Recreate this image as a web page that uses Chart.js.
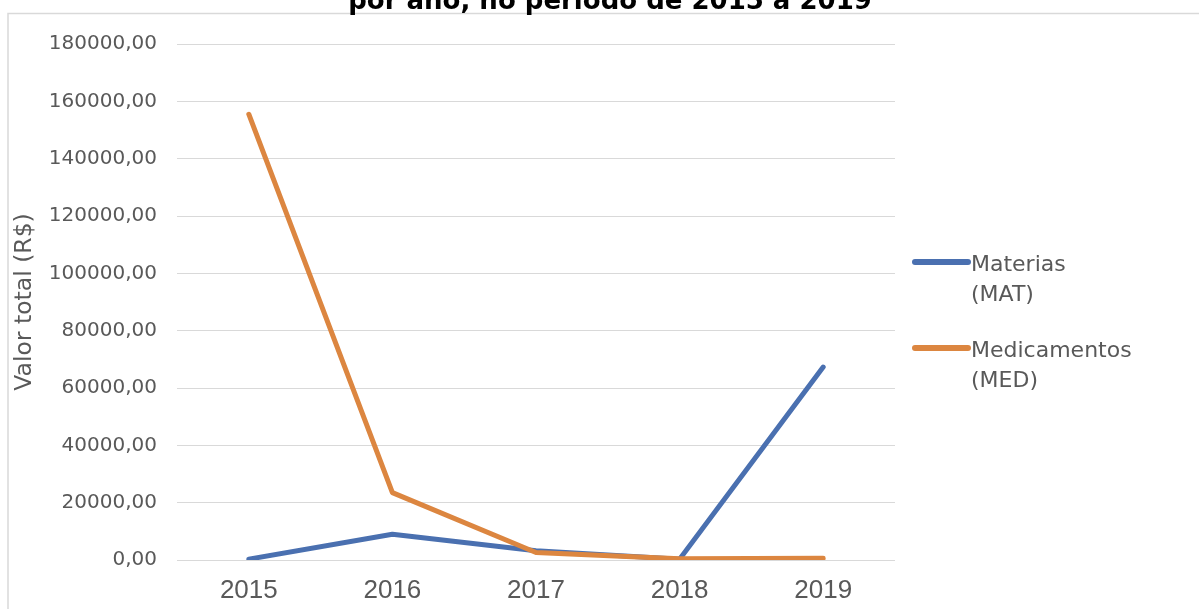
<!DOCTYPE html>
<html>
<head>
<meta charset="utf-8">
<script src="https://cdn.jsdelivr.net/npm/chart.js@4.4.0/dist/chart.umd.min.js"></script>
<style>
  html, body { margin: 0; padding: 0; background: #fff; overflow: hidden; }
  #wrap { width: 1199px; height: 609px; position: relative; }
</style>
</head>
<body>
<div id="wrap"><canvas id="grafico"></canvas></div>
<script>
// dados
const anos = ['2015', '2016', '2017', '2018', '2019'];
const materias = [300, 9000, 3200, 300, 67300];        // Materias (MAT)
const medicamentos = [155500, 23500, 2600, 400, 600];  // Medicamentos (MED)
const rotulosLegenda = [['Materias', '(MAT)'], ['Medicamentos', '(MED)']];
const yMin = 0, yMax = 180000, yPasso = 20000;
const tituloTexto = 'por ano, no período de 2015 a 2019';
const eixoYTexto = 'Valor total (R$)';

const cinza = '#595959';
const azul = '#4a70b0';
const laranja = '#dc8640';

// moldura, título cortado e legenda de duas linhas
const moldura = {
  id: 'moldura',
  beforeDraw(chart) {
    const c = chart.ctx;
    c.save();
    c.fillStyle = '#fff';
    c.fillRect(0, 0, chart.width, chart.height);
    c.strokeStyle = '#d9d9d9';
    c.lineWidth = 1.5;
    c.beginPath();
    c.moveTo(8, chart.height);
    c.lineTo(8, 13.5);
    c.lineTo(chart.width, 13.5);
    c.stroke();
    c.fillStyle = '#000';
    c.font = 'bold 26px "DejaVu Sans"';
    c.textAlign = 'center';
    c.textBaseline = 'alphabetic';
    c.fillText(tituloTexto, 610, 9);
    c.restore();
  },
  afterDraw(chart) {
    const c = chart.ctx;
    const x0 = chart.chartArea.right + 17;
    const ys = [262, 348];
    c.save();
    chart.data.datasets.forEach((ds, i) => {
      c.strokeStyle = ds.borderColor;
      c.lineWidth = 6;
      c.lineCap = 'round';
      c.beginPath();
      c.moveTo(x0 + 3, ys[i]);
      c.lineTo(x0 + 56, ys[i]);
      c.stroke();
      c.fillStyle = cinza;
      c.font = '22px "DejaVu Sans"';
      c.textAlign = 'left';
      c.textBaseline = 'alphabetic';
      rotulosLegenda[i].forEach((t, k) => c.fillText(t, x0 + 59, ys[i] + 9 + k * 30));
    });
    c.restore();
  }
};

new Chart(document.getElementById('grafico'), {
  type: 'line',
  data: {
    labels: anos,
    datasets: [
      { label: 'Materias (MAT)', data: materias, borderColor: azul, backgroundColor: azul, order: 1 },
      { label: 'Medicamentos (MED)', data: medicamentos, borderColor: laranja, backgroundColor: laranja, order: 0 }
    ]
  },
  options: {
    responsive: true,
    maintainAspectRatio: false,
    animation: false,
    layout: { padding: { left: 8, top: 44, right: 304, bottom: 0 } },
    elements: {
      line: { borderWidth: 5, tension: 0, borderCapStyle: 'round', borderJoinStyle: 'round' },
      point: { radius: 0, hoverRadius: 0 }
    },
    plugins: {
      legend: { display: false },
      title: { display: false },
      tooltip: { enabled: false }
    },
    scales: {
      x: {
        offset: true,
        grid: { display: false, drawTicks: false },
        border: { display: false },
        ticks: { color: cinza, font: { family: 'Liberation Sans', size: 26 }, padding: 15, maxRotation: 0 },
        afterFit: s => { s.height = 49; }
      },
      y: {
        min: yMin,
        max: yMax,
        grid: { color: '#d9d9d9', lineWidth: 1, drawTicks: false },
        border: { display: false },
        ticks: {
          stepSize: yPasso,
          color: cinza,
          font: { family: 'DejaVu Sans', size: 20 },
          padding: 20,
          callback: v => v.toFixed(2).replace('.', ',')
        },
        title: {
          display: true,
          text: eixoYTexto,
          color: cinza,
          font: { family: 'DejaVu Sans', size: 23.5 },
          padding: { top: 3, bottom: 0 }
        },
        afterFit: s => { s.width = 169; }
      }
    }
  },
  plugins: [moldura]
});
</script>
</body>
</html>
